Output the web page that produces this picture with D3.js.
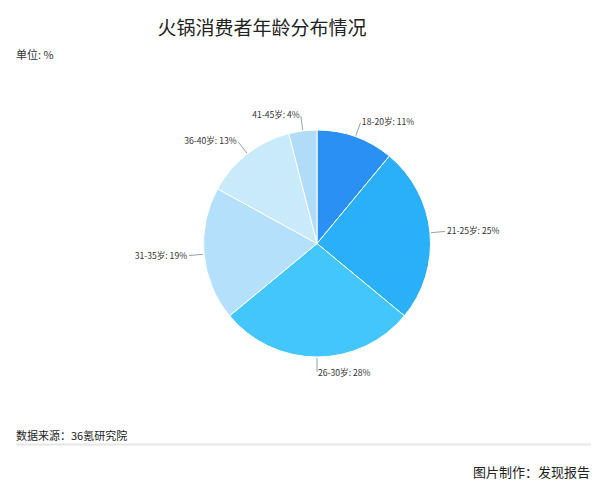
<!DOCTYPE html>
<html>
<head>
<meta charset="utf-8">
<script src="https://cdn.jsdelivr.net/npm/d3@7"></script>
<style>
  body { margin: 0; background: #fff; }
  text { font-family: "Noto Sans CJK SC", "Noto Sans", sans-serif; }
</style>
</head>
<body>
<script>
// hotpot consumer age distribution, pie chart
var ages = ['18-20岁', '21-25岁', '26-30岁', '31-35岁', '36-40岁', '41-45岁'];
var shares = [11, 25, 28, 19, 13, 4];
var colors = ['#2b90f3', '#29b0f8', '#43c6fb', '#b5e0fb', '#c8eafb', '#b0dcf8'];

var width = 607, height = 500;
var cx = 317, cy = 243.5, r = 113.5;

var svg = d3.select('body')
  .append('svg')
    .attr('width', width)
    .attr('height', height);

svg.append('text')
  .attr('x', 262).attr('y', 35)
  .attr('text-anchor', 'middle')
  .attr('font-size', 19)
  .attr('fill', '#222')
  .text('火锅消费者年龄分布情况');

svg.append('text')
  .attr('x', 16).attr('y', 59)
  .attr('font-size', 11)
  .attr('fill', '#333')
  .text('单位: %');

var data = ages.map((a, i) => ({ age: a, value: shares[i], color: colors[i] }));

var pie = d3.pie()
  .sort(null)
  .value(d => d.value);

var arc = d3.arc()
  .innerRadius(0)
  .outerRadius(r);

var arcs = pie(data);

var g = svg.append('g')
  .attr('transform', 'translate(' + cx + ',' + cy + ')');

g.selectAll('path')
  .data(arcs)
  .enter()
  .append('path')
    .attr('d', arc)
    .attr('fill', d => d.data.color)
    .attr('stroke', '#fff')
    .attr('stroke-width', 1);

// leader lines + labels
function pt(a, rad) {
  return [Math.sin(a) * rad, -Math.cos(a) * rad];
}

var labels = g.selectAll('g.lbl')
  .data(arcs)
  .enter()
  .append('g')
    .attr('class', 'lbl');

labels.append('line')
  .attr('x1', d => pt((d.startAngle + d.endAngle) / 2, r + 1)[0])
  .attr('y1', d => pt((d.startAngle + d.endAngle) / 2, r + 1)[1])
  .attr('x2', d => pt((d.startAngle + d.endAngle) / 2, r + 15)[0])
  .attr('y2', d => pt((d.startAngle + d.endAngle) / 2, r + 15)[1])
  .attr('stroke', '#7a8c8c')
  .attr('stroke-width', 0.8);

labels.append('text')
  .attr('x', d => {
    var a = (d.startAngle + d.endAngle) / 2;
    var p = pt(a, r + 16);
    return p[0] + (Math.sin(a) >= -0.01 ? 1 : -1);
  })
  .attr('y', d => pt((d.startAngle + d.endAngle) / 2, r + 16)[1])
  .attr('dy', '0.35em')
  .attr('text-anchor', d => Math.sin((d.startAngle + d.endAngle) / 2) >= -0.01 ? 'start' : 'end')
  .attr('font-size', 8.6)
  .attr('fill', '#333')
  .text(d => d.data.age + ': ' + d.data.value + '%');

// footer
svg.append('text')
  .attr('x', 16).attr('y', 440)
  .attr('font-size', 11)
  .attr('fill', '#222')
  .text('数据来源：36氪研究院');

svg.append('line')
  .attr('x1', 16).attr('x2', 591)
  .attr('y1', 444.5).attr('y2', 444.5)
  .attr('stroke', '#e6e6e6')
  .attr('stroke-width', 2);

svg.append('text')
  .attr('x', 590).attr('y', 477)
  .attr('text-anchor', 'end')
  .attr('font-size', 13)
  .attr('fill', '#222')
  .text('图片制作：发现报告');
</script>
</body>
</html>
